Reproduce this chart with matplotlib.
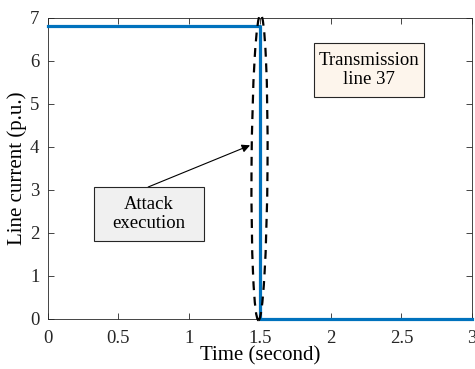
import matplotlib.pyplot as plt
import numpy as np
from matplotlib.patches import Ellipse, Rectangle

# data
time_s = [0.0, 1.5, 1.5, 3.0]
current_pu = [6.8, 6.8, 0.0, 0.0]
xticks = [0, 0.5, 1, 1.5, 2, 2.5, 3]
xticklabels = ['0', '0.5', '1', '1.5', '2', '2.5', '3']
yticks = [0, 1, 2, 3, 4, 5, 6, 7]

plt.rcParams['font.family'] = ['Liberation Serif', 'DejaVu Serif']

fig = plt.figure(figsize=(4.75, 3.69), dpi=100)
ax = fig.add_axes([47.7/475, 1 - 318.5/369, 424.5/475, 300.8/369])

ax.plot(time_s, current_pu, color='#0072BD', lw=2.3, clip_on=False, zorder=3)

ax.set_xlim(0, 3)
ax.set_ylim(0, 7)
ax.set_xticks(xticks)
ax.set_xticklabels(xticklabels)
ax.set_yticks(yticks)
ax.tick_params(direction='in', top=True, right=True, length=4, width=0.6,
               labelsize=13.5, colors='#262626')
ax.tick_params(axis='x', pad=8)
ax.tick_params(axis='y', pad=6)
for sp in ax.spines.values():
    sp.set_color('#262626')
    sp.set_linewidth(0.6)
ax.set_xlabel('Time (second)', fontsize=15, labelpad=0)
ax.set_ylabel('Line current (p.u.)', fontsize=15, labelpad=2)

# dashed ellipse round the drop (drawn in pixel space)
cx, cy = ax.transData.transform((1.497, 3.52))
ell = Ellipse((cx, cy), 16, 306, angle=-0.4, transform=None, fill=False,
              ls=(0, (4, 3)), lw=1.6, color='black', clip_on=False, zorder=4)
ax.add_artist(ell)

ax.annotate('', xy=(1.43, 4.03), xytext=(0.71, 3.06),
            arrowprops=dict(arrowstyle='-|>', color='black', lw=0.8,
                            mutation_scale=12, shrinkA=0, shrinkB=0))

# text boxes
ax.add_patch(Rectangle((0.327, 1.80), 0.778, 1.26, fc='#f0f0f0', ec='#262626',
                       lw=0.8, zorder=5))
ax.text(0.716, 2.43, 'Attack\nexecution', ha='center', va='center',
        fontsize=13.5, linespacing=1.15, zorder=6)
ax.add_patch(Rectangle((1.882, 5.155), 0.778, 1.255, fc='#fdf5ec', ec='#262626',
                       lw=0.8, zorder=5))
ax.text(2.271, 5.78, 'Transmission\nline 37', ha='center', va='center',
        fontsize=13.5, linespacing=1.15, zorder=6)

fig.savefig('out.png', dpi=100)
